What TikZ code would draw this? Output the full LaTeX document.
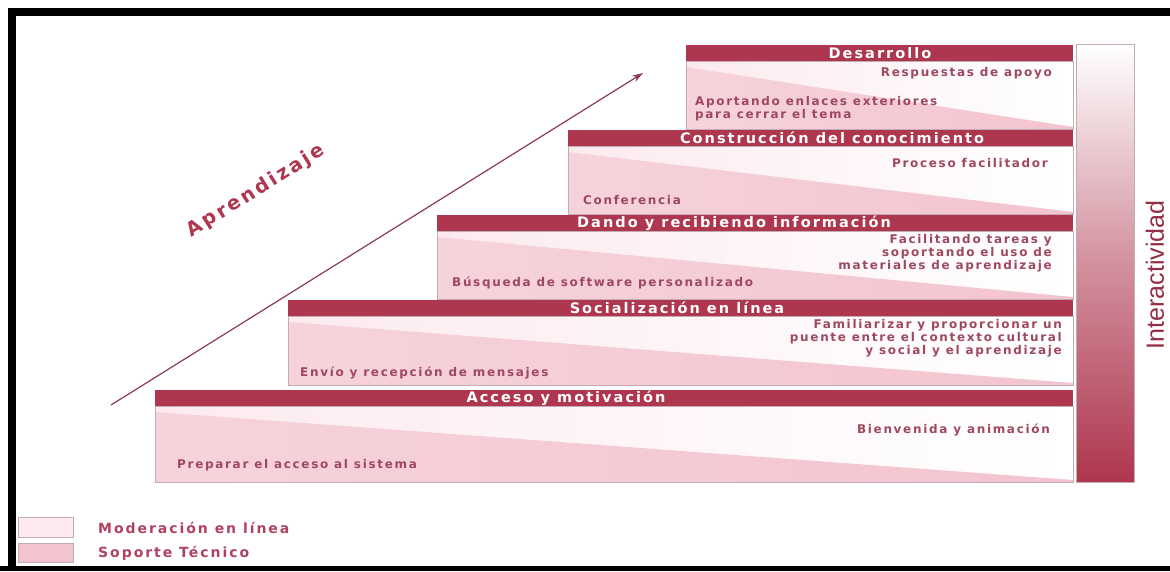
\documentclass[tikz,border=0pt]{standalone}
\usepackage{fontspec}
\setmainfont{Liberation Sans}
\newfontfamily\trackfont{DejaVu Sans}[LetterSpace=14]
\usetikzlibrary{arrows.meta}
\tikzset{>={Stealth[length=11pt,width=7pt]}}
\definecolor{barred}{RGB}{174,54,78}
\definecolor{softpink}{RGB}{243,196,207}
\definecolor{palepink}{RGB}{252,234,239}
\definecolor{bodytext}{RGB}{158,72,94}
\definecolor{legtext}{RGB}{176,66,96}
\definecolor{edgegray}{RGB}{192,172,178}
\definecolor{arrowred}{RGB}{140,58,78}
\tikzset{
  titletext/.style={text=white, inner sep=0pt, font=\trackfont\bfseries\fontsize{14.5}{14.5}\selectfont},
  bodyleft/.style={text=bodytext, inner sep=0pt, anchor=west, align=left, font=\trackfont\bfseries\fontsize{12}{13}\selectfont},
  bodyright/.style={bodyleft, anchor=east, align=right},
  legendbox/.style={draw=edgegray, line width=0.8pt},
  legendtext/.style={text=legtext, inner sep=0pt, anchor=west, font=\trackfont\bfseries\fontsize{14}{14}\selectfont}
}

\begin{document}
\begin{tikzpicture}[x=1pt,y=-1pt]
\useasboundingbox (0,0) rectangle (1170,571);
% frame
\fill[black] (8,8) rectangle (16,571);
\fill[black] (8,8) rectangle (1170,16);
\fill[black] (0,566) rectangle (1170,571);

% steps: left / bar top / bottom
\foreach \L/\T/\B in {155/390/482, 288/300/385, 437/215/299, 568/130/214, 686/45/129} {
  \shade[left color=palepink, right color=white] (\L,\T+16) rectangle (1073,\B);
  \shade[left color=softpink!75!white, right color=softpink] (\L,\T+22) -- (1073,\B-2) -- (1073,\B) -- (\L,\B) -- cycle;
  \draw[edgegray, line width=0.8pt] (\L,\T+16) rectangle (1073,\B);
  \fill[barred] (\L,\T) rectangle (1073,\T+16);
}

\node[titletext] (tDesarrollo) at (880,53) {Desarrollo};
\node[titletext] (tConstruccion) at (832,138) {Construcción del conocimiento};
\node[titletext] (tDando) at (734,223) {Dando y recibiendo información};
\node[titletext] (tSocial) at (677,308) {Socialización en línea};
\node[titletext] (tAcceso) at (566,398) {Acceso y motivación};

\node[bodyright] (rDesarrollo) at (1052,73) {Respuestas de apoyo};
\node[bodyleft] (lDesarrollo) at (695,108.5) {Aportando enlaces exteriores\\para cerrar el tema};
\node[bodyright] (rConstruccion) at (1048,163) {Proceso facilitador};
\node[bodyleft] (lConstruccion) at (583,200) {Conferencia};
\node[bodyright] (rDando) at (1052,253) {Facilitando tareas y\\soportando el uso de\\materiales de aprendizaje};
\node[bodyleft] (lDando) at (452,283) {Búsqueda de software personalizado};
\node[bodyright] (rSocial) at (1062,338) {Familiarizar y proporcionar un\\puente entre el contexto cultural\\y social y el aprendizaje};
\node[bodyleft] (lSocial) at (300,373) {Envío y recepción de mensajes};
\node[bodyright] (rAcceso) at (1050,430) {Bienvenida y animación};
\node[bodyleft] (lAcceso) at (177,465) {Preparar el acceso al sistema};

% interactividad
\shade[top color=white, bottom color=barred, middle color=barred!55!white] (1076,44) rectangle (1134,482);
\draw[edgegray, line width=0.6pt] (1076,44) rectangle (1134,482);
\node[rotate=90, text=barred!85!black, inner sep=0pt, font=\fontsize{25}{25}\selectfont] (interact) at (1155,275) {Interactividad};

% aprendizaje
\coordinate (arrTail) at (111,405);
\coordinate (arrTip) at (643,73);
\draw[->, arrowred, line width=1.2pt] (arrTail) -- (arrTip);
\node[rotate=32, text=barred, inner sep=0pt, font=\trackfont\bfseries\fontsize{19.5}{19.5}\selectfont] (learn) at (256,191) {Aprendizaje};

% legend
\draw[legendbox, fill=palepink] (18,517) rectangle (73,537);
\draw[legendbox, fill=softpink] (18,543) rectangle (73,562);
\node[legendtext] (legMod) at (98,528) {Moderación en línea};
\node[legendtext] (legSop) at (98,553) {Soporte Técnico};
\end{tikzpicture}
\end{document}
